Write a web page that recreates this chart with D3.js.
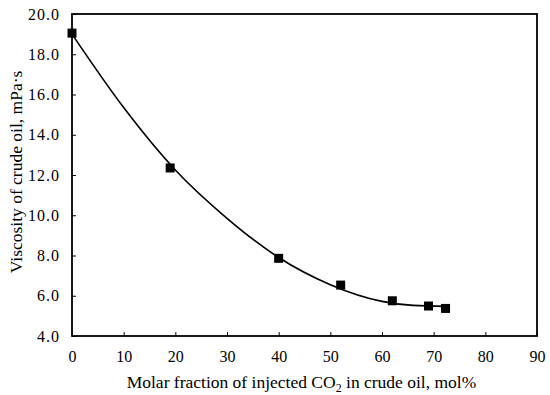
<!DOCTYPE html>
<html>
<head>
<meta charset="utf-8">
<script src="https://cdn.jsdelivr.net/npm/d3@7"></script>
<style>
  body { margin: 0; background: #fff; }
  svg { display: block; font-family: 'Liberation Serif', 'DejaVu Serif', serif; }
  svg text { font-family: 'Liberation Serif', 'DejaVu Serif', serif; }
</style>
</head>
<body>
<svg id="chart"></svg>
<script>
// measured points
const molarFraction = [0, 19, 40, 52, 62, 69, 72.3]
const viscosity = [19.05, 12.35, 7.86, 6.53, 5.75, 5.49, 5.37]
// trend line
const trendX = [0, 10, 20, 30, 40, 50, 60, 66, 72.5]
const trendY = [19.0, 15.35, 12.25, 9.85, 7.9, 6.55, 5.72, 5.52, 5.47]
const xTicks = [0, 10, 20, 30, 40, 50, 60, 70, 80, 90]
const yTicks = [4, 6, 8, 10, 12, 14, 16, 18, 20]

const width = 550
const height = 395
const margin = { top: 14, right: 13, bottom: 59, left: 72 }
const _w = width - margin.left - margin.right
const _h = height - margin.top - margin.bottom

const svg = d3.select('#chart').attr('width', width).attr('height', height)
const g = svg.append('g').attr('transform', `translate(${margin.left},${margin.top})`)

const x = d3.scaleLinear().domain([0, 90]).range([0, _w])
const y = d3.scaleLinear().domain([4, 20]).range([_h, 0])

// x axis, ticks pointing inward
const xAxis = g
  .append('g')
  .attr('transform', `translate(0,${_h})`)
  .call(d3.axisBottom(x).tickValues(xTicks).tickFormat(d3.format('d')).tickSizeInner(-4).tickSizeOuter(0).tickPadding(15))
xAxis.select('.domain').remove()
xAxis.selectAll('line').attr('stroke', '#000').attr('stroke-width', 1)
xAxis.selectAll('text').attr('font-size', 16).attr('fill', '#000')

const yAxis = g
  .append('g')
  .call(d3.axisLeft(y).tickValues(yTicks).tickFormat(d3.format('.1f')).tickSizeInner(-4).tickSizeOuter(0).tickPadding(12))
yAxis.select('.domain').remove()
yAxis.selectAll('line').attr('stroke', '#000').attr('stroke-width', 1)
yAxis.selectAll('text').attr('font-size', 16).attr('fill', '#000').attr('letter-spacing', 1)

// frame
g.append('rect')
  .attr('width', _w)
  .attr('height', _h)
  .attr('fill', 'none')
  .attr('stroke', '#000')
  .attr('stroke-width', 1.8)

// trend curve
const trend = trendX.map((d, i) => [d, trendY[i]])
const line = d3
  .line()
  .x((d) => x(d[0]))
  .y((d) => y(d[1]))
  .curve(d3.curveMonotoneX)
g.append('path').attr('d', line(trend)).attr('fill', 'none').attr('stroke', '#000').attr('stroke-width', 1.6)

// markers
const pts = molarFraction.map((d, i) => ({ x: d, y: viscosity[i] }))
const sz = 9
g.selectAll('rect.pt')
  .data(pts)
  .join('rect')
  .attr('class', 'pt')
  .attr('x', (d) => x(d.x) - sz / 2)
  .attr('y', (d) => y(d.y) - sz / 2)
  .attr('width', sz)
  .attr('height', sz)
  .attr('fill', '#000')

// axis titles
const xTitle = svg
  .append('text')
  .attr('x', margin.left + _w / 2 - 3)
  .attr('y', 388)
  .attr('text-anchor', 'middle')
  .attr('font-size', 17.5)
  .attr('fill', '#000')
xTitle.append('tspan').text('Molar fraction of injected CO')
xTitle.append('tspan').attr('font-size', 12).attr('dy', 4).text('2')
xTitle.append('tspan').attr('dy', -4).text(' in crude oil, mol%')

svg
  .append('text')
  .attr('transform', `translate(22,${margin.top + _h / 2 - 3}) rotate(-90)`)
  .attr('text-anchor', 'middle')
  .attr('font-size', 17.5)
  .attr('fill', '#000')
  .text('Viscosity of crude oil, mPa·s')
</script>
</body>
</html>
